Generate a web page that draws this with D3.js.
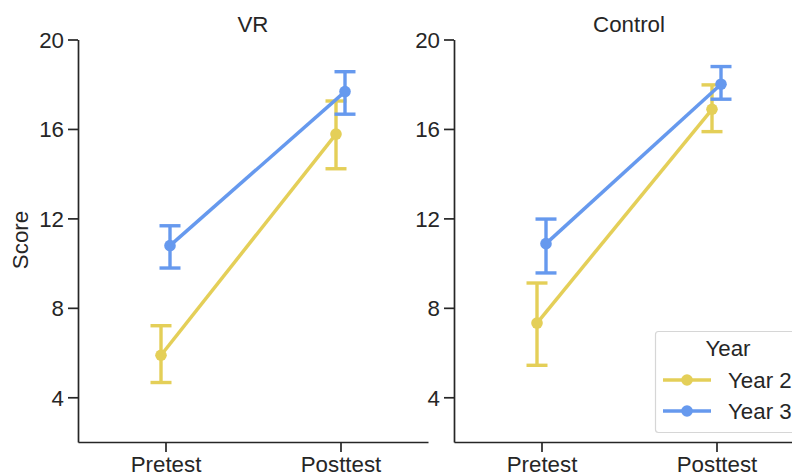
<!DOCTYPE html>
<html>
<head>
<meta charset="utf-8">
<script src="https://cdn.jsdelivr.net/npm/d3@7"></script>
<style>
  body { margin: 0; background: #fff; }
  text { font-family: "Liberation Sans", Arial, sans-serif; fill: #262626; }
</style>
</head>
<body>
<svg id="chart"></svg>
<script>
let w = 792;
let h = 475;

// data
const phases = ["Pretest", "Posttest"];
const panels = ["VR", "Control"];
const years = ["Year 2", "Year 3"];
const yTicks = [4, 8, 12, 16, 20];

const vrY2 = [5.88, 15.77];
const vrY2Lo = [4.66, 14.22];
const vrY2Hi = [7.20, 17.25];
const vrY3 = [10.78, 17.67];
const vrY3Lo = [9.78, 16.66];
const vrY3Hi = [11.67, 18.56];

const ctY2 = [7.32, 16.88];
const ctY2Lo = [5.43, 15.88];
const ctY2Hi = [9.11, 17.97];
const ctY3 = [10.87, 18.00];
const ctY3Lo = [9.56, 17.33];
const ctY3Hi = [11.97, 18.79];

const colors = ["#e4cf58", "#6699ee"];

let series = {
  "VR": [
    { year: "Year 2", mean: vrY2, lo: vrY2Lo, hi: vrY2Hi },
    { year: "Year 3", mean: vrY3, lo: vrY3Lo, hi: vrY3Hi }
  ],
  "Control": [
    { year: "Year 2", mean: ctY2, lo: ctY2Lo, hi: ctY2Hi },
    { year: "Year 3", mean: ctY3, lo: ctY3Lo, hi: ctY3Hi }
  ]
};

let fs = "22.3px";

let svg = d3.select("#chart").attr("width", w).attr("height", h);

let color = d3.scaleOrdinal().domain(years).range(colors);
let dodge = d3.scalePoint().domain(years).range([-4.5, 4.5]);

let yScale = d3.scaleLinear().domain([2, 20]).range([442, 39.5]);
let panelLeft = [78, 454];
let panelW = 350;

panels.forEach((name, pi) => {
  let x0 = panelLeft[pi];
  let xScale = d3.scalePoint().domain(phases).range([x0, x0 + panelW]).padding(0.5);
  let g = svg.append("g");

  let yAxis = d3.axisLeft(yScale).tickValues(yTicks).tickSize(10).tickSizeOuter(0).tickPadding(4);
  let xAxis = d3.axisBottom(xScale).tickSize(10).tickSizeOuter(0).tickPadding(4);

  let ya = g.append("g").attr("transform", `translate(${x0},0)`).call(yAxis);
  let xa = g.append("g").attr("transform", `translate(0,442)`).call(xAxis);
  [ya, xa].forEach(a => {
    a.selectAll("path, line").attr("stroke", "#262626").attr("stroke-width", 1.7);
    a.selectAll("text").style("font-size", fs).attr("fill", "#262626");
  });
  ya.selectAll("text").attr("dy", "0.35em");

  g.append("text")
   .attr("x", x0 + panelW / 2)
   .attr("y", 32)
   .attr("text-anchor", "middle")
   .style("font-size", fs)
   .text(name);

  series[name].forEach(s => {
    let c = color(s.year);
    let px = (i) => xScale(phases[i]) + dodge(s.year);
    let sg = g.append("g");

    phases.forEach((p, i) => {
      sg.append("line")
        .attr("x1", px(i)).attr("x2", px(i))
        .attr("y1", yScale(s.lo[i])).attr("y2", yScale(s.hi[i]))
        .attr("stroke", c).attr("stroke-width", 3.4);
      [s.lo[i], s.hi[i]].forEach(v => {
        sg.append("line")
          .attr("x1", px(i) - 10.5).attr("x2", px(i) + 10.5)
          .attr("y1", yScale(v)).attr("y2", yScale(v))
          .attr("stroke", c).attr("stroke-width", 3.4);
      });
    });

    let line = d3.line().x((d, i) => px(i)).y(d => yScale(d));
    sg.append("path")
      .attr("d", line(s.mean))
      .attr("fill", "none")
      .attr("stroke", c)
      .attr("stroke-width", 3.5);

    sg.selectAll("circle")
      .data(s.mean)
      .enter()
      .append("circle")
      .attr("cx", (d, i) => px(i))
      .attr("cy", d => yScale(d))
      .attr("r", 5.8)
      .attr("fill", c);
  });
});

// y label
svg.append("text")
   .attr("transform", "translate(28,240) rotate(-90)")
   .attr("text-anchor", "middle")
   .style("font-size", fs)
   .text("Score");

// legend
let legend = svg.append("g");
legend.append("rect")
      .attr("x", 655.5).attr("y", 331.5)
      .attr("width", 160).attr("height", 101)
      .attr("rx", 3)
      .attr("fill", "#fff")
      .attr("stroke", "#d6d6d6")
      .attr("stroke-width", 1.2);
legend.append("text")
      .attr("x", 728).attr("y", 356)
      .attr("text-anchor", "middle")
      .style("font-size", fs)
      .text("Year");
years.forEach((y, i) => {
  let ly = 380 + i * 31;
  legend.append("line")
        .attr("x1", 663).attr("x2", 711)
        .attr("y1", ly).attr("y2", ly)
        .attr("stroke", color(y)).attr("stroke-width", 3.5);
  legend.append("circle")
        .attr("cx", 687).attr("cy", ly).attr("r", 5.8)
        .attr("fill", color(y));
  legend.append("text")
        .attr("x", 728).attr("y", ly)
        .attr("dy", "0.35em")
        .style("font-size", fs)
        .text(y);
});
</script>
</body>
</html>
